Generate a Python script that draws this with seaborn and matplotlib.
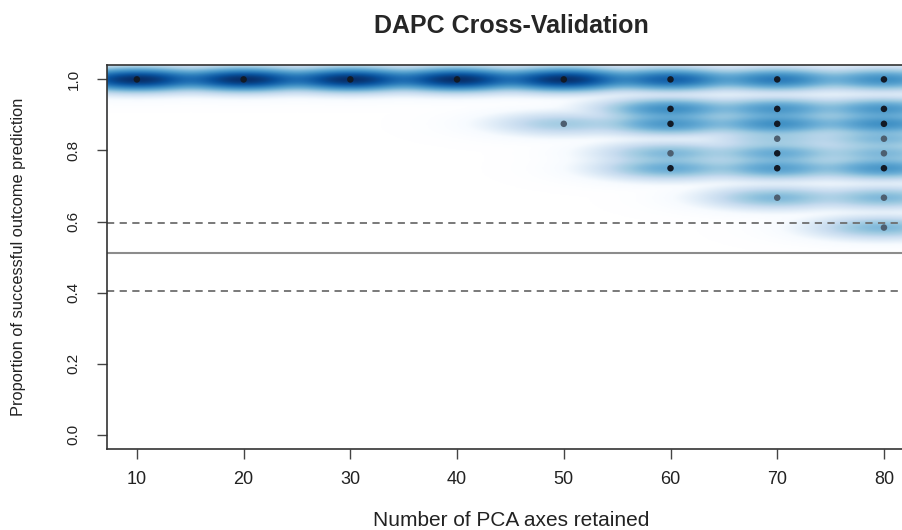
import numpy as np
import pandas as pd
import seaborn as sns
import matplotlib
matplotlib.use('Agg')
import matplotlib.pyplot as plt
from matplotlib.colors import LinearSegmentedColormap

sns.set_style('white')
plt.rcParams['font.family'] = ['Liberation Sans', 'DejaVu Sans']

# 交叉验证结果: 每个 PCA 数对应的成功率及重复次数
n_pca = [10, 20, 30, 40, 50, 60, 70, 80]
success = [
    [1.0],
    [1.0],
    [1.0],
    [1.0],
    [1.0, 0.875],
    [1.0, 0.917, 0.875, 0.792, 0.75],
    [1.0, 0.917, 0.875, 0.833, 0.792, 0.75, 0.667],
    [1.0, 0.917, 0.875, 0.833, 0.792, 0.75, 0.667, 0.583],
]
counts = [
    [30],
    [30],
    [30],
    [30],
    [29, 1],
    [14, 6, 5, 2, 3],
    [9, 5, 6, 1, 3, 4, 2],
    [6, 5, 6, 2, 2, 5, 2, 2],
]
random_mean = 0.512
random_ci = [0.405, 0.597]

rows = []
for x, ys, cs in zip(n_pca, success, counts):
    for y, c in zip(ys, cs):
        rows.append({'n_pca': x, 'success': y, 'count': c})
df = pd.DataFrame(rows)

fig = plt.figure(figsize=(9.03, 5.30), dpi=100)
ax = fig.add_axes([0.1185, 0.153, 0.8935, 0.724])

xlim = (7.2, 82.8)
ylim = (-0.04, 1.04)

# 类似 smoothScatter 的密度图 (带宽: x 2.8, y 0.014, 密度开四次方)
gx = np.linspace(xlim[0], xlim[1], 500)
gy = np.linspace(ylim[0], ylim[1], 700)
GX, GY = np.meshgrid(gx, gy)
dens = np.zeros_like(GX)
bx, by = 2.8, 0.014
for _, r in df.iterrows():
    dens += r['count'] * np.exp(-((GX - r['n_pca']) ** 2 / (2 * bx ** 2)
                                   + (GY - r['success']) ** 2 / (2 * by ** 2)))
dens = (dens / dens.max()) ** 0.25
blues9 = ['#FFFFFF', '#F7FBFF', '#DEEBF7', '#C6DBEF', '#9ECAE1', '#6BAED6',
          '#4292C6', '#2171B5', '#08519C', '#08306B']
cmap = LinearSegmentedColormap.from_list('smooth', blues9)
ax.imshow(dens, extent=(xlim[0], xlim[1], ylim[0], ylim[1]), origin='lower',
          aspect='auto', cmap=cmap, interpolation='bilinear', zorder=0)

# 点: 重复次数少的颜色偏灰
df['kind'] = np.where(df['count'] <= 2, 'few', 'many')
sns.scatterplot(data=df, x='n_pca', y='success', hue='kind',
                palette={'few': '#4d5f70', 'many': '#121a26'},
                s=22, edgecolor='none', legend=False, ax=ax, zorder=3)

ax.axhline(random_mean, color='#8c8c8c', lw=1.5, zorder=2)
for v in random_ci:
    ax.axhline(v, color='#6e6e6e', lw=1.3, ls=(0, (4, 3)), zorder=2)

ax.set_xlim(xlim)
ax.set_ylim(ylim)
ax.set_xticks(n_pca)
ax.set_yticks([0.0, 0.2, 0.4, 0.6, 0.8, 1.0])
ax.set_yticklabels(['0.0', '0.2', '0.4', '0.6', '0.8', '1.0'], rotation=90, va='center')
ax.tick_params(axis='both', direction='out', length=7, width=1, color='#444444',
               labelcolor='#222222', bottom=True, left=True)
ax.tick_params(axis='x', labelsize=13, pad=9)
ax.tick_params(axis='y', labelsize=11, pad=12)
for s in ax.spines.values():
    s.set_color('#333333')
    s.set_linewidth(1.2)

ax.set_xlabel('')
ax.set_ylabel('Proportion of successful outcome prediction', fontsize=11.8,
              color='#222222')
ax.yaxis.set_label_coords(-0.10, 0.5)
fig.text(511 / 903, 1 - 521 / 530, 'Number of PCA axes retained', fontsize=15,
         color='#222222', ha='center', va='center')
fig.text(511 / 903, 1 - 26 / 530, 'DAPC Cross-Validation', fontsize=18,
         fontweight='bold', ha='center', va='center')

fig.savefig('out.png', dpi=100)
